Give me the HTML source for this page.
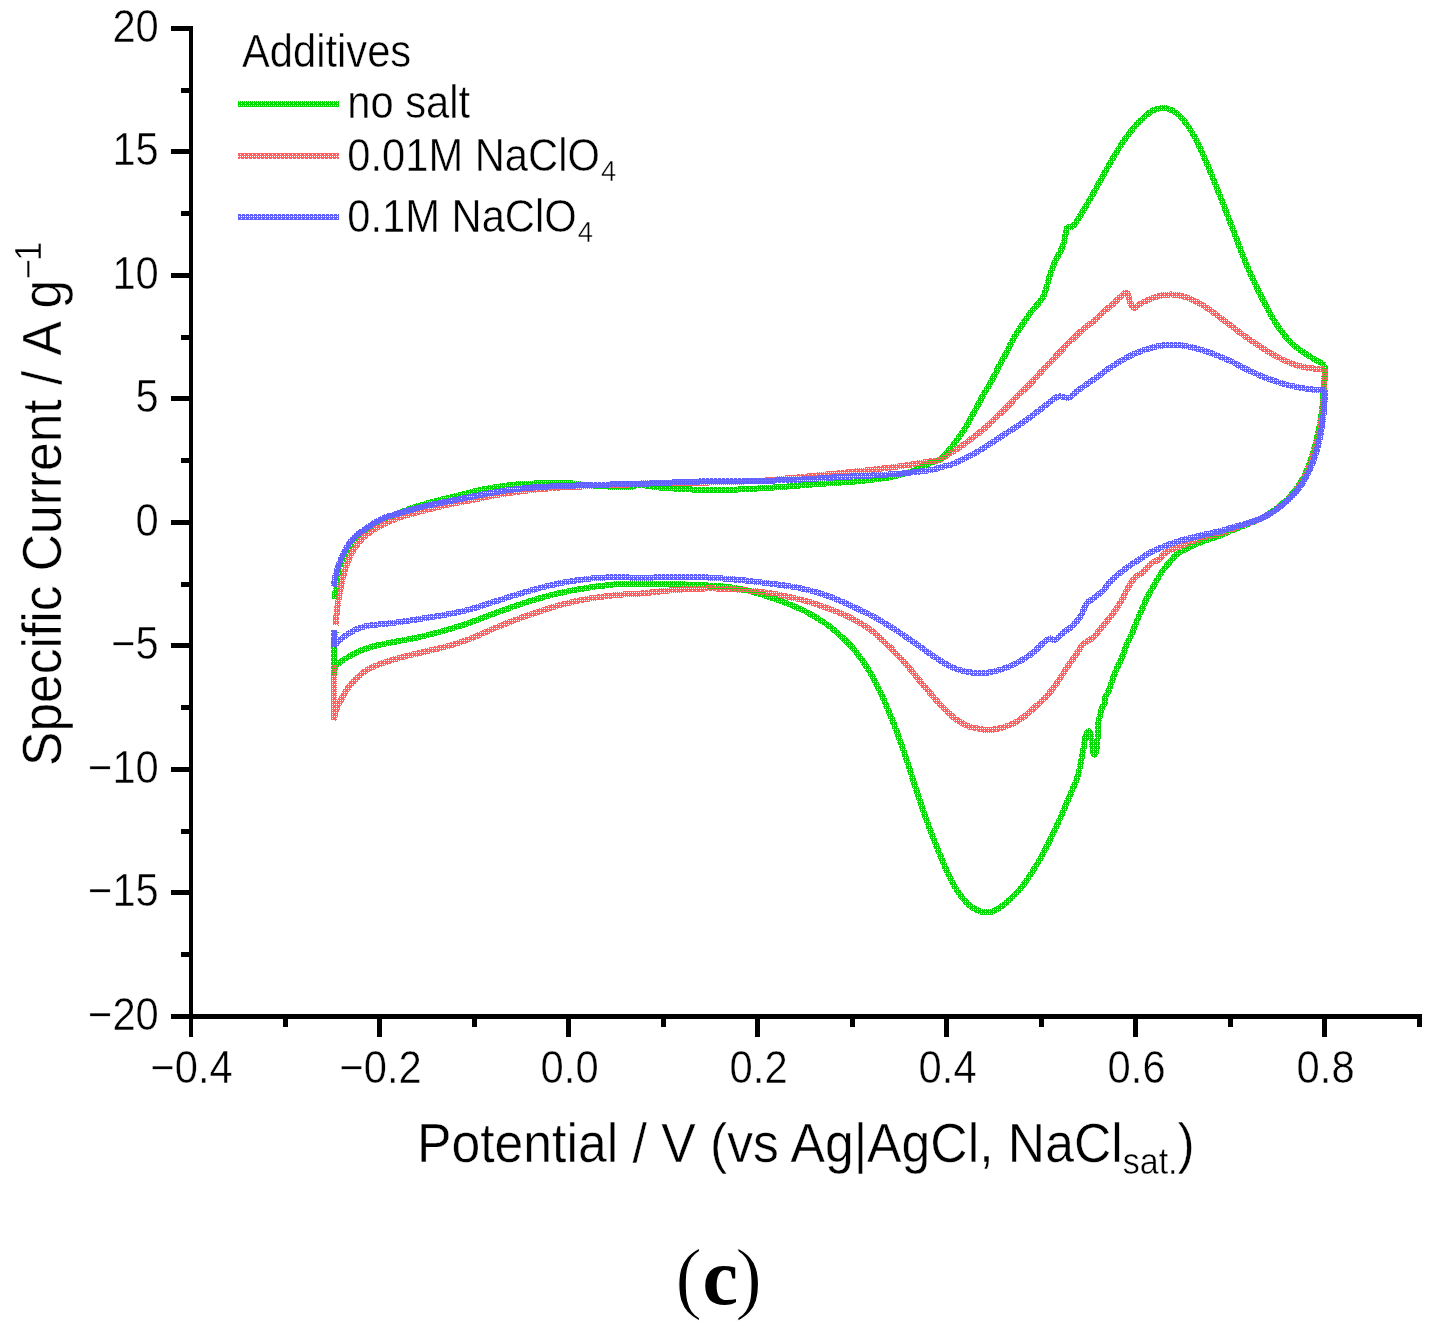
<!DOCTYPE html>
<html lang="en"><head><meta charset="utf-8"><title>Cyclic voltammograms with additives (c)</title>
<style>
html,body{margin:0;padding:0;background:#fff;}
body{width:1433px;height:1333px;overflow:hidden;}
svg{display:block;}
text{font-family:"Liberation Sans",Arial,Helvetica,sans-serif;fill:#000;stroke:#fff;stroke-width:0.4px;paint-order:fill stroke;}
.tl{font-size:41.7px;}
.ttl{font-size:51.7px;}
.cap{font-family:"Liberation Serif","Times New Roman",serif;font-weight:bold;font-size:78px;stroke:none;}
.ax{stroke:#000;fill:none;}
.crv{fill:none;stroke-width:6;stroke-linejoin:round;stroke-linecap:butt;shape-rendering:crispEdges;}
</style></head><body>
<svg width="1433" height="1333" viewBox="0 0 1433 1333">
<defs>
<pattern id="pg" width="4" height="4" patternUnits="userSpaceOnUse" patternTransform="translate(1 1)"><path fill="#00dc00" d="M1 0H2V1H1zM3 0H4V1H3zM0 1H4V2H0zM1 2H4V3H1zM0 3H4V4H0z"/></pattern>
<pattern id="pr" width="4" height="4" patternUnits="userSpaceOnUse"><path fill="#ff6060" d="M1 0H2V1H1zM3 0H4V1H3zM0 1H4V2H0zM1 2H4V3H1zM0 3H4V4H0z"/></pattern>
<pattern id="pb" width="4" height="4" patternUnits="userSpaceOnUse" patternTransform="translate(1 0)"><path fill="#6060ff" d="M1 0H2V1H1zM3 0H4V1H3zM0 1H4V2H0zM1 2H4V3H1zM0 3H4V4H0z"/></pattern>
</defs>
<rect width="1433" height="1333" fill="#fff"/>

<g fill="#000" shape-rendering="crispEdges">
<rect x="189" y="26" width="4" height="1011"/>
<rect x="171" y="1014" width="1251" height="5"/>
<rect x="171" y="26" width="19" height="5"/>
<rect x="171" y="149" width="19" height="5"/>
<rect x="171" y="273" width="19" height="5"/>
<rect x="171" y="396" width="19" height="5"/>
<rect x="171" y="520" width="19" height="5"/>
<rect x="171" y="643" width="19" height="5"/>
<rect x="171" y="767" width="19" height="5"/>
<rect x="171" y="890" width="19" height="5"/>
<rect x="181" y="88" width="9" height="5"/>
<rect x="181" y="211" width="9" height="5"/>
<rect x="181" y="335" width="9" height="5"/>
<rect x="181" y="458" width="9" height="5"/>
<rect x="181" y="582" width="9" height="5"/>
<rect x="181" y="705" width="9" height="5"/>
<rect x="181" y="829" width="9" height="5"/>
<rect x="181" y="952" width="9" height="5"/>
<rect x="377" y="1016" width="5" height="21"/>
<rect x="566" y="1016" width="5" height="21"/>
<rect x="755" y="1016" width="5" height="21"/>
<rect x="944" y="1016" width="5" height="21"/>
<rect x="1133" y="1016" width="5" height="21"/>
<rect x="1322" y="1016" width="5" height="21"/>
<rect x="283" y="1016" width="5" height="11"/>
<rect x="472" y="1016" width="5" height="11"/>
<rect x="661" y="1016" width="5" height="11"/>
<rect x="850" y="1016" width="5" height="11"/>
<rect x="1039" y="1016" width="5" height="11"/>
<rect x="1228" y="1016" width="5" height="11"/>
<rect x="1417" y="1016" width="5" height="11"/>
</g>
<g class="tl" text-anchor="end">
<text transform="translate(158.8 41.7) scale(1 1.09)">20</text>
<text transform="translate(158.8 165.2) scale(1 1.09)">15</text>
<text transform="translate(158.8 288.7) scale(1 1.09)">10</text>
<text transform="translate(158.8 412.2) scale(1 1.09)">5</text>
<text transform="translate(158.8 535.7) scale(1 1.09)">0</text>
<text transform="translate(158.8 659.2) scale(1 1.09)">−5</text>
<text transform="translate(158.8 782.7) scale(1 1.09)">−10</text>
<text transform="translate(158.8 906.2) scale(1 1.09)">−15</text>
<text transform="translate(158.8 1029.7) scale(1 1.09)">−20</text>
</g>
<g class="tl" text-anchor="middle">
<text transform="translate(191.6 1082.6) scale(1 1.09)">−0.4</text>
<text transform="translate(380.6 1082.6) scale(1 1.09)">−0.2</text>
<text transform="translate(569.6 1082.6) scale(1 1.09)">0.0</text>
<text transform="translate(758.6 1082.6) scale(1 1.09)">0.2</text>
<text transform="translate(947.6 1082.6) scale(1 1.09)">0.4</text>
<text transform="translate(1136.6 1082.6) scale(1 1.09)">0.6</text>
<text transform="translate(1325.6 1082.6) scale(1 1.09)">0.8</text>
</g>
<path class="crv" stroke="url(#pg)" d="M335.0 599.4C335.1 597.0 335.0 596.4 335.6 590.0C336.2 583.6 336.3 580.8 337.6 574.0C338.9 567.2 338.3 569.2 340.8 563.0C343.3 556.8 343.8 555.2 347.5 549.0C351.2 542.8 351.6 542.5 355.8 538.0C360.0 533.5 358.0 535.4 364.2 531.0C370.4 526.6 372.3 524.9 380.6 520.5C388.9 516.1 389.1 516.8 397.5 513.5C405.9 510.2 405.9 510.1 414.4 507.3C422.8 504.5 422.9 504.5 431.3 502.2C439.7 499.9 439.7 500.1 448.1 498.0C456.5 495.9 456.6 495.9 465.0 493.8C473.4 491.7 473.4 491.3 481.9 489.5C490.3 487.7 490.4 487.9 498.8 486.7C507.2 485.4 507.3 485.3 515.7 484.5C524.1 483.7 524.1 484.0 532.5 483.6C540.9 483.2 540.0 483.2 549.4 483.1C558.8 483.0 560.1 482.8 570.0 483.3C579.9 483.8 574.8 484.2 589.0 485.2C603.2 486.2 614.0 487.4 626.8 487.3C639.5 487.2 630.5 484.8 640.0 485.0C649.5 485.2 646.1 486.8 665.0 488.0C683.9 489.2 690.2 490.0 715.4 490.0C740.6 490.0 740.6 489.4 765.7 488.0C790.9 486.6 790.9 486.1 816.0 484.2C841.1 482.3 844.2 483.0 866.2 480.4C888.2 477.8 888.3 478.0 904.0 473.8C919.7 469.6 920.0 467.1 929.0 463.5C938.0 459.9 935.9 461.9 940.0 459.5C944.1 457.1 942.5 457.3 945.6 453.9C948.7 450.5 949.0 450.2 952.4 446.0C955.8 441.8 955.7 441.8 959.1 437.0C962.5 432.2 962.8 432.0 965.9 426.9C969.0 421.8 968.5 422.0 971.5 416.7C974.5 411.4 974.8 411.0 977.7 405.5C980.7 400.0 980.6 399.6 983.3 394.8C986.0 390.0 985.7 391.0 988.4 386.4C991.1 381.8 991.2 381.5 994.0 376.2C996.8 370.9 996.7 370.6 999.6 365.0C1002.5 359.4 1002.7 359.6 1005.8 353.7C1008.9 347.8 1008.8 347.3 1012.0 341.4C1015.2 335.5 1015.3 335.5 1018.7 330.1C1022.1 324.8 1022.4 324.5 1025.5 320.0C1028.6 315.5 1027.5 316.6 1031.0 312.0C1034.5 307.4 1036.2 306.6 1039.7 301.7C1043.2 296.8 1042.3 299.4 1045.0 292.4C1047.7 285.4 1047.7 281.8 1050.3 273.8C1052.9 265.9 1052.6 267.2 1055.6 260.6C1058.6 254.0 1059.5 254.6 1062.2 247.3C1064.9 240.0 1064.9 236.4 1066.2 231.4C1067.5 226.4 1065.8 228.8 1067.5 227.4C1069.2 226.1 1069.9 228.7 1072.9 226.0C1075.9 223.3 1074.5 224.6 1079.5 216.7C1084.5 208.8 1086.2 205.8 1092.8 194.2C1099.4 182.6 1099.4 181.9 1106.0 170.3C1112.6 158.7 1112.7 158.0 1119.3 147.7C1125.9 137.4 1125.9 137.1 1132.6 129.1C1139.2 121.1 1140.4 120.6 1145.9 115.8C1151.4 111.0 1150.3 111.5 1154.5 109.7C1158.7 107.9 1158.5 108.4 1162.5 108.4C1166.5 108.4 1165.8 107.5 1170.4 109.7C1175.0 111.9 1175.7 111.7 1181.0 117.2C1186.3 122.7 1186.4 122.9 1191.7 131.8C1197.0 140.8 1197.0 141.4 1202.3 153.0C1207.6 164.6 1207.6 165.2 1212.9 178.2C1218.2 191.1 1218.2 191.2 1223.5 204.8C1228.8 218.4 1228.9 218.8 1234.2 232.7C1239.5 246.6 1239.5 247.7 1244.8 260.6C1250.1 273.6 1250.1 273.2 1255.4 284.5C1260.7 295.8 1260.7 295.8 1266.0 305.7C1271.3 315.6 1270.6 315.4 1276.6 324.3C1282.6 333.2 1282.8 334.2 1289.9 341.5C1297.1 348.8 1298.7 348.9 1305.2 353.5C1311.7 358.1 1310.8 357.0 1315.8 360.0C1320.8 363.0 1322.8 364.0 1325.1 365.4 M1325.1 365.4C1324.7 371.6 1324.5 378.4 1323.6 390.4C1322.7 402.4 1323.0 402.5 1321.6 413.5C1320.1 424.5 1320.1 424.0 1317.8 434.5C1315.5 445.0 1315.4 445.5 1312.2 455.5C1309.0 465.5 1309.3 465.6 1305.0 474.5C1300.7 483.4 1300.9 483.3 1294.8 491.0C1288.7 498.7 1288.0 498.9 1280.6 505.2C1273.1 511.5 1272.9 511.6 1265.0 516.2C1257.1 520.8 1256.8 520.2 1249.0 523.5C1241.2 526.8 1241.3 526.5 1234.0 529.5C1226.7 532.5 1223.3 534.2 1219.7 535.7 M1219.7 535.7C1216.3 536.8 1212.4 538.0 1206.2 540.2C1200.0 542.5 1200.6 542.2 1195.0 544.7C1189.4 547.2 1188.2 548.0 1183.7 550.4C1179.2 552.8 1180.4 551.5 1177.0 554.3C1173.6 557.1 1173.6 557.8 1170.2 561.6C1166.8 565.4 1166.6 565.3 1163.5 569.5C1160.4 573.7 1160.4 574.3 1157.9 578.5C1155.4 582.7 1155.7 582.5 1153.4 586.4C1151.2 590.3 1150.9 590.6 1148.9 594.2C1146.9 597.9 1147.2 597.3 1145.5 601.0C1143.8 604.7 1143.8 605.0 1142.1 608.9C1140.4 612.8 1140.4 612.8 1138.7 616.7C1137.0 620.6 1137.1 620.4 1135.4 624.6C1133.7 628.8 1134.0 629.1 1132.0 633.6C1130.0 638.1 1129.5 638.1 1127.5 642.6C1125.5 647.1 1125.8 647.1 1124.1 651.6C1122.4 656.1 1122.6 656.2 1120.7 660.6C1118.8 665.0 1118.5 664.6 1116.6 669.0C1114.7 673.4 1114.7 673.5 1113.0 678.0C1111.3 682.5 1111.2 683.2 1109.9 687.0C1108.6 690.8 1108.7 690.9 1107.6 693.3C1106.5 695.7 1106.1 694.2 1105.4 696.5C1104.7 698.8 1105.8 699.3 1104.9 702.3C1104.0 705.3 1103.0 705.2 1101.8 708.6C1100.6 712.0 1100.9 712.2 1100.0 715.8C1099.1 719.4 1098.8 719.0 1098.2 723.0C1097.6 727.0 1097.9 728.0 1097.7 732.0C1097.5 736.0 1097.7 735.6 1097.5 739.2C1097.3 742.8 1097.3 742.8 1096.8 746.4C1096.3 750.0 1096.3 751.7 1095.5 753.6C1094.7 755.5 1094.5 755.8 1093.7 754.0C1092.9 752.2 1092.9 750.1 1092.3 746.4C1091.7 742.7 1092.0 742.6 1091.4 739.2C1090.8 735.8 1090.8 734.8 1090.0 732.9C1089.2 731.0 1089.3 731.1 1088.3 731.6C1087.3 732.1 1086.9 732.4 1086.0 734.7C1085.1 737.1 1085.4 737.2 1084.7 741.0C1084.0 744.8 1084.1 745.5 1083.3 750.0C1082.5 754.5 1082.4 754.5 1081.5 759.0C1080.6 763.5 1080.7 763.5 1079.7 768.0C1078.7 772.5 1080.0 770.1 1077.5 777.0C1075.0 783.9 1075.0 783.4 1069.8 795.7C1064.5 808.0 1063.8 810.6 1056.5 826.2C1049.2 841.8 1048.6 843.7 1040.6 858.0C1032.6 872.3 1031.9 873.3 1024.6 883.3C1017.3 893.3 1018.0 891.7 1011.4 898.0C1004.8 904.3 1004.1 905.1 998.1 908.6C992.1 912.1 992.8 911.7 987.5 912.0C982.2 912.3 982.1 912.4 976.8 909.9C971.5 907.4 972.2 908.6 966.2 902.0C960.2 895.4 959.5 895.3 952.9 883.3C946.3 871.3 946.3 869.9 939.7 854.0C933.1 838.1 933.0 838.2 926.4 819.6C919.8 801.0 919.8 799.7 913.1 779.8C906.5 759.9 905.8 757.0 899.8 740.0C893.8 723.0 894.8 725.7 888.9 711.7C883.0 697.7 883.2 697.2 876.3 684.0C869.4 670.8 870.0 670.8 861.2 658.9C852.4 647.0 852.3 646.7 841.0 636.3C829.7 625.9 828.5 625.2 816.0 617.4C803.5 609.5 803.4 610.2 790.8 604.9C778.2 599.5 778.3 600.0 765.7 596.0C753.1 592.0 753.1 591.5 740.5 589.0C727.9 586.5 731.1 587.2 715.4 586.0C699.7 584.8 696.6 584.7 677.7 584.3C658.9 583.9 655.9 584.2 640.0 584.3C624.1 584.3 630.1 583.2 614.2 584.5C598.3 585.8 595.4 586.1 576.5 589.6C557.6 593.1 557.7 593.0 538.8 598.4C519.9 603.8 519.9 604.4 501.0 611.0C482.1 617.6 482.2 618.6 463.4 624.8C444.6 630.9 443.1 631.3 425.7 635.6C408.3 639.9 408.3 638.9 393.8 642.0C379.3 645.1 379.1 644.2 367.6 648.0C356.1 651.8 355.6 653.0 347.9 657.2C340.2 661.5 340.1 661.8 336.7 665.0C333.3 668.2 334.9 667.5 334.2 670.0C333.5 672.5 333.9 673.8 333.8 675.0 M333.8 675.0L333.8 640.0L336.0 631.0"/>
<path class="crv" stroke="url(#pr)" d="M335.9 625.4C336.1 622.0 335.9 619.5 336.8 611.9C337.7 604.3 337.8 603.5 339.3 595.0C340.8 586.5 340.8 585.7 342.7 578.1C344.6 570.5 344.6 570.9 346.9 564.6C349.2 558.3 348.9 558.3 351.9 552.8C354.8 547.3 354.9 547.3 358.7 542.7C362.5 538.1 361.6 538.5 367.1 534.3C372.6 530.1 373.0 529.8 380.6 525.8C388.2 521.8 389.1 521.4 397.5 518.2C405.9 515.1 405.9 515.5 414.4 513.2C422.8 510.9 422.9 511.0 431.3 508.9C439.7 506.8 439.7 506.6 448.1 504.7C456.5 502.8 456.6 503.1 465.0 501.4C473.4 499.7 473.4 499.7 481.9 498.0C490.3 496.3 490.4 496.1 498.8 494.6C507.2 493.1 507.3 493.2 515.7 492.1C524.1 491.0 524.1 490.9 532.5 490.0C540.9 489.1 540.0 489.1 549.4 488.4C558.8 487.6 550.6 487.9 570.0 487.0C589.4 486.1 609.3 485.6 626.8 484.7C644.3 483.8 611.6 484.2 640.0 483.5C668.4 482.8 702.8 483.1 740.5 481.7C778.2 480.3 765.7 480.2 790.8 478.0C815.9 475.8 815.9 475.6 841.0 473.0C866.1 470.4 869.4 470.2 891.4 467.4C913.4 464.5 916.9 463.6 929.0 461.6C941.1 459.6 934.5 461.7 940.0 459.5C945.5 457.3 945.6 456.2 951.2 452.7C956.8 449.2 956.9 449.3 962.5 445.4C968.1 441.5 968.1 441.4 973.7 437.0C979.3 432.6 979.4 432.9 985.0 428.0C990.6 423.1 990.6 422.6 996.2 417.3C1001.8 412.0 1001.9 412.2 1007.5 406.6C1013.1 401.0 1013.1 400.4 1018.7 394.8C1024.3 389.2 1024.4 389.9 1030.0 384.1C1035.6 378.3 1035.6 377.8 1041.2 371.7C1046.8 365.6 1046.9 365.8 1052.5 359.9C1058.1 354.0 1058.1 353.9 1063.7 348.1C1069.3 342.4 1069.4 342.2 1075.0 336.9C1080.6 331.5 1081.2 330.9 1086.2 326.7C1091.2 322.5 1090.8 323.8 1095.2 320.0C1099.7 316.2 1099.3 315.8 1104.0 311.5C1108.7 307.2 1109.8 306.8 1114.0 303.0C1118.2 299.2 1118.1 298.9 1121.0 296.3C1123.9 293.8 1123.8 293.1 1125.5 292.8C1127.2 292.5 1126.8 292.4 1128.0 295.0C1129.2 297.6 1129.0 299.8 1130.5 303.0C1132.0 306.2 1131.9 307.4 1133.8 308.0C1135.7 308.6 1135.7 306.9 1138.0 305.5C1140.3 304.1 1138.6 304.5 1143.2 302.3C1147.8 300.1 1149.8 298.8 1156.5 296.8C1163.2 294.9 1163.2 294.6 1169.8 294.5C1176.4 294.4 1175.7 294.3 1183.0 296.4C1190.3 298.5 1191.0 298.7 1199.0 303.0C1207.0 307.3 1207.0 308.0 1214.9 313.7C1222.9 319.4 1222.8 319.6 1230.8 325.6C1238.8 331.6 1238.8 332.0 1246.8 337.6C1254.8 343.2 1254.8 343.2 1262.7 348.2C1270.7 353.2 1270.6 353.4 1278.6 357.5C1286.6 361.6 1286.6 361.9 1294.6 364.6C1302.6 367.3 1302.9 367.1 1310.5 368.2C1318.1 369.3 1321.4 368.8 1325.1 369.0 M1325.1 369.0C1324.8 374.4 1324.7 379.3 1324.0 390.4C1323.3 401.5 1323.6 402.5 1322.2 413.5C1320.8 424.5 1320.9 424.0 1318.6 434.5C1316.3 445.0 1316.2 445.5 1313.0 455.5C1309.8 465.5 1310.2 465.6 1305.8 474.5C1301.4 483.4 1301.7 483.3 1295.6 491.0C1289.5 498.7 1289.0 499.0 1281.4 505.4C1273.9 511.8 1273.5 512.0 1265.4 516.4C1257.3 520.8 1256.8 520.0 1249.0 523.0C1241.2 526.0 1241.3 525.7 1234.0 528.5C1226.7 531.3 1223.3 532.7 1219.7 534.1 M1219.7 534.1C1216.3 534.8 1212.4 535.2 1206.2 536.9C1200.0 538.6 1200.6 538.7 1195.0 540.8C1189.4 542.9 1189.3 543.2 1183.7 545.3C1178.1 547.4 1177.3 547.2 1172.5 549.2C1167.7 551.2 1168.0 550.7 1164.6 553.2C1161.2 555.8 1162.1 557.0 1159.0 559.4C1155.9 561.8 1155.0 560.8 1152.2 562.7C1149.4 564.7 1150.2 564.7 1147.7 567.2C1145.2 569.8 1144.9 570.6 1142.1 572.9C1139.3 575.1 1139.3 573.7 1136.5 576.2C1133.7 578.7 1133.4 579.3 1130.9 583.0C1128.4 586.7 1128.7 586.7 1126.4 590.9C1124.2 595.1 1124.5 595.4 1121.9 599.9C1119.4 604.4 1119.0 604.7 1116.2 608.9C1113.4 613.1 1113.4 613.1 1110.6 616.7C1107.8 620.4 1107.8 620.1 1105.0 623.5C1102.2 626.9 1102.2 626.8 1099.4 630.2C1096.6 633.6 1096.8 634.2 1093.7 637.0C1090.6 639.8 1089.8 639.5 1087.0 641.5C1084.2 643.5 1084.8 642.4 1082.5 644.9C1080.2 647.4 1080.2 648.2 1078.0 651.6C1075.8 655.0 1076.0 654.8 1073.5 658.4C1071.0 662.0 1073.5 658.1 1067.9 666.2C1062.3 674.3 1059.4 680.6 1051.2 690.8C1043.0 700.9 1043.3 699.5 1035.3 706.8C1027.3 714.1 1027.3 714.9 1019.3 720.0C1011.3 725.1 1010.7 724.7 1003.4 727.2C996.1 729.7 996.1 729.5 990.1 729.9C984.1 730.3 986.1 730.3 979.5 728.8C972.9 727.3 972.2 728.9 963.6 724.0C955.0 719.1 955.0 719.0 945.0 709.4C935.0 699.8 934.3 697.8 923.7 685.5C913.1 673.2 913.1 671.9 902.5 660.3C891.9 648.7 891.8 648.3 881.2 639.0C870.6 629.7 873.2 630.6 860.0 623.0C846.8 615.4 845.8 615.0 828.5 608.6C811.2 602.2 809.7 601.7 790.8 597.3C771.9 592.9 771.9 593.2 753.0 591.0C734.1 588.8 734.2 588.8 715.4 588.5C696.6 588.2 696.6 588.5 677.7 589.8C658.9 591.1 655.9 592.2 640.0 593.6C624.1 595.0 630.1 593.5 614.2 595.4C598.3 597.2 595.4 596.9 576.5 601.0C557.6 605.1 557.7 605.6 538.8 611.7C519.9 617.8 519.9 618.1 501.0 625.5C482.1 632.9 482.2 634.8 463.4 641.3C444.6 647.8 441.4 647.5 425.7 651.5C410.0 655.5 413.4 653.8 400.5 657.5C387.6 661.2 383.9 662.2 374.0 666.5C364.1 670.8 367.2 669.5 361.0 674.5C354.8 679.5 354.1 680.0 349.2 686.3C344.3 692.5 344.4 694.0 341.3 699.5C338.2 705.0 338.6 703.2 336.7 708.5C334.8 713.8 334.5 717.5 333.8 720.5 M333.8 720.5L334.6 663.8"/>
<path class="crv" stroke="url(#pb)" d="M334.2 586.5C334.3 584.9 334.0 583.8 334.6 580.0C335.2 576.2 335.4 576.1 336.8 571.4C338.2 566.7 337.6 567.4 340.1 561.3C342.6 555.2 343.1 553.1 346.9 546.9C350.7 540.6 351.1 540.5 355.3 536.3C359.5 532.1 357.5 534.2 363.8 530.0C370.1 525.8 372.2 523.5 380.6 519.4C389.0 515.3 389.1 516.3 397.5 513.7C405.9 511.1 405.9 511.1 414.4 508.9C422.8 506.6 422.9 506.6 431.3 504.7C439.7 502.8 439.7 503.1 448.1 501.4C456.5 499.7 456.6 499.7 465.0 498.0C473.4 496.3 473.4 496.2 481.9 494.6C490.3 493.0 490.4 493.0 498.8 491.6C507.2 490.2 507.3 490.2 515.7 489.2C524.1 488.2 524.1 488.2 532.5 487.5C540.9 486.8 540.0 486.9 549.4 486.5C558.8 486.1 550.6 486.3 570.0 485.7C589.4 485.1 604.3 484.6 626.8 484.0C649.3 483.4 644.1 483.8 660.0 483.2C675.9 482.6 670.2 482.2 690.3 481.7C710.4 481.1 715.4 481.4 740.5 481.0C765.6 480.6 765.7 481.0 790.8 480.0C815.9 479.0 815.9 478.4 841.0 477.0C866.1 475.6 869.4 476.0 891.4 474.3C913.4 472.6 916.9 472.0 929.0 470.3C941.1 468.6 934.5 468.8 940.0 467.4C945.5 465.9 945.6 466.5 951.2 464.5C956.8 462.5 956.9 462.1 962.5 459.5C968.1 456.9 968.1 457.0 973.7 453.9C979.3 450.8 979.4 450.6 985.0 447.1C990.6 443.6 990.6 443.5 996.2 439.8C1001.8 436.1 1001.9 436.1 1007.5 432.5C1013.1 428.9 1013.1 429.0 1018.7 425.2C1024.3 421.4 1024.4 421.4 1030.0 417.3C1035.6 413.2 1035.6 413.2 1041.2 408.9C1046.8 404.5 1048.3 402.9 1052.5 399.9C1056.7 396.8 1055.3 397.4 1058.1 396.7C1060.9 396.0 1061.2 396.6 1063.7 397.0C1066.2 397.4 1066.0 398.8 1068.2 398.2C1070.5 397.6 1069.6 397.2 1072.7 394.8C1075.8 392.4 1075.8 392.1 1080.6 388.6C1085.4 385.1 1087.1 384.1 1091.9 380.7C1096.8 377.3 1095.1 378.6 1100.0 375.1C1104.9 371.6 1103.9 371.6 1111.4 366.8C1118.9 362.0 1121.3 360.3 1129.9 356.0C1138.5 351.7 1138.6 352.0 1145.9 349.5C1153.2 347.0 1152.6 347.2 1159.2 346.0C1165.8 344.8 1165.8 344.7 1172.4 344.7C1179.0 344.7 1177.7 344.5 1185.7 346.0C1193.7 347.5 1194.3 347.6 1204.3 350.8C1214.2 354.0 1214.9 354.2 1225.5 358.8C1236.1 363.4 1236.2 364.4 1246.8 369.4C1257.4 374.4 1257.4 374.7 1268.0 378.7C1278.6 382.7 1278.7 382.8 1289.3 385.4C1299.9 388.0 1301.5 388.1 1310.5 389.3C1319.5 390.5 1321.4 389.8 1325.1 390.0 M1325.1 390.0C1324.8 395.9 1324.8 402.4 1323.7 413.5C1322.6 424.6 1322.6 424.0 1320.5 434.5C1318.4 445.0 1318.5 445.5 1315.3 455.5C1312.0 465.5 1312.2 465.6 1307.5 474.5C1302.8 483.4 1303.1 483.5 1296.6 491.3C1290.1 499.1 1289.4 499.4 1281.6 505.6C1273.8 511.9 1273.7 512.0 1265.5 516.3C1257.3 520.6 1256.9 520.1 1249.0 522.8C1241.1 525.5 1241.3 524.9 1234.0 527.0C1226.7 529.1 1223.3 530.2 1219.7 531.2 M1219.7 531.2C1216.3 531.9 1212.4 532.7 1206.2 534.1C1200.0 535.5 1200.6 535.5 1195.0 536.9C1189.4 538.3 1189.3 538.2 1183.7 539.7C1178.1 541.2 1178.1 541.1 1172.5 543.1C1166.9 545.1 1166.8 545.2 1161.2 547.6C1155.6 550.0 1155.6 549.5 1150.0 552.6C1144.4 555.7 1144.3 556.2 1138.7 559.9C1133.1 563.5 1133.1 563.1 1127.5 567.2C1121.9 571.3 1120.7 572.4 1116.2 576.2C1111.7 580.0 1112.6 579.0 1109.5 582.4C1106.4 585.8 1107.0 586.5 1103.9 589.7C1100.8 593.0 1100.5 592.7 1097.1 595.4C1093.7 598.1 1092.9 598.4 1090.4 600.4C1087.9 602.4 1088.7 600.8 1087.0 603.2C1085.3 605.6 1085.3 606.6 1083.6 610.0C1081.9 613.4 1082.2 613.6 1080.2 616.7C1078.2 619.8 1078.2 619.6 1075.7 622.4C1073.2 625.2 1073.2 625.5 1070.1 628.0C1067.0 630.5 1067.1 629.6 1063.4 632.5C1059.7 635.4 1058.6 638.1 1055.2 639.6C1051.8 641.1 1052.9 637.6 1049.9 638.5C1046.9 639.4 1048.2 638.9 1043.2 643.0C1038.2 647.1 1037.9 649.4 1029.9 655.0C1022.0 660.6 1020.7 661.4 1011.4 665.6C1002.1 669.8 1001.4 669.9 992.8 671.7C984.1 673.6 985.4 673.5 976.8 673.0C968.1 672.5 967.5 672.8 958.2 669.6C948.9 666.4 951.0 667.3 939.7 660.3C928.4 653.3 926.3 650.7 913.0 641.7C899.7 632.7 899.9 632.2 886.6 624.3C873.4 616.4 877.6 618.1 860.0 610.0C842.4 601.9 839.6 598.8 816.0 592.0C792.4 585.2 790.9 586.5 765.7 583.0C740.6 579.5 737.4 579.6 715.4 578.0C693.4 576.4 696.6 576.7 677.7 576.7C658.9 576.7 655.9 577.9 640.0 578.0C624.1 578.1 630.1 576.4 614.2 577.0C598.3 577.6 595.4 577.5 576.5 580.3C557.6 583.1 557.7 583.5 538.8 588.3C519.9 593.1 519.9 593.9 501.0 599.6C482.1 605.3 482.2 606.4 463.4 611.0C444.6 615.6 443.1 615.0 425.7 618.0C408.3 621.0 406.4 621.1 393.8 622.8C381.2 624.5 383.3 623.7 375.4 624.8C367.4 625.9 367.9 625.5 362.0 627.2C356.1 628.9 357.2 628.6 352.0 631.5C346.8 634.4 345.2 635.8 341.3 638.8C337.4 641.8 338.3 641.5 336.5 643.5C334.7 645.5 334.6 645.9 334.0 646.7 M334.0 646.7L334.0 630.3"/>
<text class="tl" transform="translate(242 66.5) scale(1 1.09)">Additives</text>
<path class="crv" stroke="url(#pg)" d="M238.2 104.1H338.7"/>
<path class="crv" stroke="url(#pr)" d="M238.2 156H338.7"/>
<path class="crv" stroke="url(#pb)" d="M238.2 217.1H338.7"/>
<text class="tl" transform="translate(347.3 118.2) scale(1 1.09)">no salt</text>
<text class="tl" transform="translate(347.3 170.7) scale(1 1.09)">0.01M NaClO<tspan font-size="27.4" dy="9.2" dx="1.2">4</tspan></text>
<text class="tl" transform="translate(347.3 231.5) scale(1 1.09)">0.1M NaClO<tspan font-size="27.4" dy="9.2" dx="1.2">4</tspan></text>
<text id="xt" class="ttl" transform="translate(417 1162.2) scale(1 1.09)">Potential / V (vs Ag|AgCl, NaCl<tspan font-size="34" dy="11">sat.</tspan><tspan dy="-11">)</tspan></text>
<text id="yt" class="ttl" transform="translate(61 766) rotate(-90) scale(0.997 1.09)">Specific Current /<tspan dx="3.7"> A</tspan><tspan dx="-1.7"> g</tspan><tspan font-size="34.5" dy="-18.6" dx="0.6">−</tspan><tspan font-size="34.5" dx="-1.5">1</tspan></text>
<text id="cap" class="cap" y="1303.7"><tspan x="675.2" font-weight="normal" font-size="80.5" stroke="#fff" stroke-width="1.1">(</tspan><tspan x="702.6" font-size="80">c</tspan><tspan x="735.2" font-weight="normal" font-size="80.5" stroke="#fff" stroke-width="1.1">)</tspan></text>
</svg></body></html>
